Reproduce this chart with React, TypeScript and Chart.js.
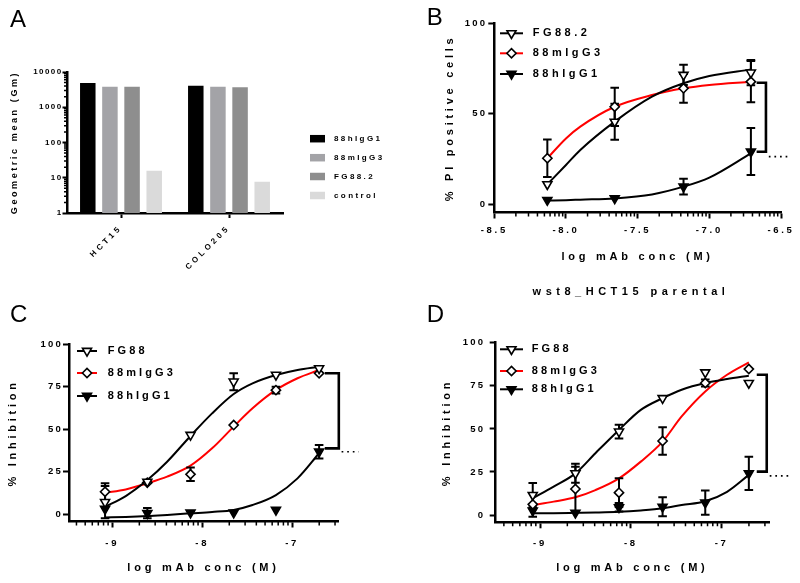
import React, { useEffect, useRef } from 'react';
import { Chart, registerables } from 'chart.js';
import { drawPoint } from 'chart.js/helpers';

Chart.register(...registerables);

const FONT = "'Liberation Sans', Arial, Helvetica, sans-serif";
Chart.defaults.font.family = FONT;
Chart.defaults.color = '#000';

// ---------------- Panel A : geometric mean (log bars) ----------------
const aCategories = ['HCT15', 'COLO205'];
const aSeriesNames = ['88hIgG1', '88mIgG3', 'FG88.2', 'control'];
const a88hIgG1 = [4900, 4100];
const a88mIgG3 = [3800, 3800];
const aFG882 = [3800, 3700];
const aControl = [15.8, 7.7];
const aYTicks = [1, 10, 100, 1000, 10000];
const aYTickLabels = ['1', '10', '100', '1000', '10000'];
const aDecades = [1, 10, 100, 1000];
const aMinorK = [2, 3, 4, 5, 6, 7, 8, 9];

// ---------------- Panel B : % PI positive cells ----------------
const bNames = ['FG88.2', '88mIgG3', '88hIgG1'];
const bConc = [-8.13, -7.66, -7.18, -6.71];
const bFG882 = [10.9, 45.5, 71.4, 72.7];
const bFG882Err = [0, 10, 5.6, 7];
const bMIgG3 = [25.3, 53.8, 64, 67.7];
const bMIgG3Err = [10.4, 10.6, 8, 11.4];
const bHIgG1 = [2.2, 3.1, 9.6, 29];
const bHIgG1Err = [0, 0, 4.4, 13];
const bCurveX = [-8.13, -8.0, -7.9, -7.66, -7.4, -7.18, -7.0, -6.71];
const bCurveFG882 = [10.9, 21.6, 29.9, 45.6, 59.4, 66.8, 70.8, 74.5];
const bCurveMIgG3 = [25.3, 36.3, 42.8, 53.8, 60.3, 64, 65.9, 67.7];
const bCurveHIgG1 = [1.9, 2.1, 2.4, 3.1, 5.3, 9.6, 14.6, 28];
const bXTicks = [-8.5, -8.0, -7.5, -7.0, -6.5];
const bXTickLabels = ['-8.5', '-8.0', '-7.5', '-7.0', '-6.5'];
const bYTicks = [0, 50, 100];
const bYTickLabels = ['0', '50', '100'];

// ---------------- Panel C : % inhibition ----------------
const cNames = ['FG88', '88mIgG3', '88hIgG1'];
const cConc = [-9.08, -8.61, -8.13, -7.65, -7.18, -6.7];
const cFG88 = [7, 19, 46.6, 78, 82, 85.8];
const cFG88Err = [9.5, 0, 0, 5, 0, 0];
const cMIgG3 = [13.1, 18.5, 23.4, 52.4, 73, 82.9];
const cMIgG3Err = [5, 0, 4, 0, 2, 0];
const cHIgG1 = [3, 0.5, 0.8, 0.8, 2.4, 36.7];
const cHIgG1Err = [0, 3, 0, 0, 0, 4];
const cCurveX = [-9.08, -8.85, -8.61, -8.39, -8.13, -7.89, -7.65, -7.44, -7.18, -6.94, -6.7];
const cCurveFG88 = [4.3, 10.6, 20, 30.8, 46, 59.3, 70.7, 77, 81.9, 84.9, 86.8];
const cCurveMIgG3 = [12.6, 14.5, 18.1, 22, 28.5, 38.7, 51.5, 62.3, 73.1, 80, 84.9];
const cCurveHIgG1 = [-2, -1.7, -1.2, -0.5, 0.4, 1.2, 2.4, 5.3, 11.2, 21, 35.8];

// ---------------- Panel D : % inhibition ----------------
const dNames = ['FG88', '88mIgG3', '88hIgG1'];
const dConc = [-9.08, -8.61, -8.13, -7.65, -7.18, -6.7];
const dFG88 = [11.6, 24.2, 48.4, 67.8, 82.7, 76.6];
const dFG88Err = [7, 5.5, 4, 0, 0, 0];
const dMIgG3 = [6.2, 15.1, 13, 43, 76.6, 84.7];
const dMIgG3Err = [0, 13, 8.3, 8, 2, 0];
const dHIgG1 = [2.5, 1.3, 4.5, 4.8, 7.2, 24.2];
const dHIgG1Err = [3.5, 0, 2.5, 5.5, 7, 9.7];
const dCurveX = [-9.08, -8.85, -8.61, -8.39, -8.13, -7.89, -7.65, -7.44, -7.18, -6.94, -6.7];
const dCurveFG88 = [9.7, 16.5, 24.2, 35.9, 49.4, 61, 67.8, 72.7, 76.6, 78.9, 80.8];
const dCurveMIgG3 = [5.8, 7.8, 10.3, 14.5, 21.3, 31, 42.6, 57.2, 71.7, 81.4, 88.6];
const dCurveHIgG1 = [1, 1.1, 1.3, 1.5, 1.9, 2.7, 3.9, 5.8, 8, 13.5, 23.3];

const cdXTicks = [-9, -8, -7];
const cdXTickLabels = ['-9', '-8', '-7'];
const cdYTicks = [0, 25, 50, 75, 100];
const cdYTickLabels = ['0', '25', '50', '75', '100'];

// log10(2..9): fractional positions of Prism's minor ticks inside each major interval
const LOG_FRACTIONS = [0.301, 0.477, 0.602, 0.699, 0.778, 0.845, 0.903, 0.954];

function minorTicks(starts: number[], step: number, lo: number, hi: number) {
  const out: number[] = [];
  starts.forEach((m) => LOG_FRACTIONS.forEach((f) => {
    const v = m + f * step;
    if (v > lo && v < hi) out.push(v);
  }));
  return out;
}

const bold = (size: number) => ({ family: FONT, size, weight: 'bold' as const });

type TextSpec = { text: string; x: number; y: number; font: string; align?: CanvasTextAlign; baseline?: CanvasTextBaseline; spacing?: number };

function drawErrorBars(chart: any) {
  const ctx = chart.ctx;
  const xs = chart.scales.x;
  const ys = chart.scales.y;
  ctx.save();
  ctx.strokeStyle = '#000';
  ctx.lineWidth = 2;
  chart.data.datasets.forEach((ds: any) => {
    if (!ds.errorBars) return;
    ds.data.forEach((p: any, j: number) => {
      const e = ds.errorBars[j];
      if (!e) return;
      const x = xs.getPixelForValue(p.x);
      const y1 = ys.getPixelForValue(p.y + e);
      const y2 = ys.getPixelForValue(p.y - e);
      ctx.beginPath();
      ctx.moveTo(x, y1); ctx.lineTo(x, y2);
      ctx.moveTo(x - 4.3, y1); ctx.lineTo(x + 4.3, y1);
      ctx.moveTo(x - 4.3, y2); ctx.lineTo(x + 4.3, y2);
      ctx.stroke();
    });
  });
  ctx.restore();
}

function prismPlugin(cfg: any) {
  let errDrawn = false;
  return {
    id: 'prism',
    beforeUpdate(chart: any) {
      chart.ctx.letterSpacing = (cfg.baseSpacing ?? 2) + 'px';
    },
    afterUpdate(chart: any) {
      Object.values(chart.scales).forEach((s: any) => {
        if (s.__prism) return;
        s.__prism = true;
        const dt = s.drawTitle.bind(s);
        const dl = s.drawLabels.bind(s);
        const ls = (cfg.labelSpacing && cfg.labelSpacing[s.id]) ?? 2;
        s.drawTitle = () => { s.ctx.letterSpacing = cfg.titleSpacing + 'px'; dt(); s.ctx.letterSpacing = '0px'; };
        s.drawLabels = (a: any) => { s.ctx.letterSpacing = ls + 'px'; dl(a); s.ctx.letterSpacing = '0px'; };
      });
    },
    beforeDatasetsDraw() { errDrawn = false; },
    beforeDatasetDraw(chart: any, args: any) {
      const ds = chart.data.datasets[args.index];
      if (!ds.isMarker || errDrawn) return;
      errDrawn = true;
      drawErrorBars(chart);
    },
    afterDraw(chart: any) {
      const ctx = chart.ctx;
      const ca = chart.chartArea;
      const xs = chart.scales.x;
      const ys = chart.scales.y;
      ctx.save();
      // minor ticks
      ctx.strokeStyle = '#000';
      ctx.lineWidth = 1.5;
      ctx.beginPath();
      (cfg.xMinor || []).forEach((v: number) => {
        const px = xs.getPixelForValue(v);
        ctx.moveTo(px, ca.bottom); ctx.lineTo(px, ca.bottom + cfg.minorLen);
      });
      (cfg.yMinor || []).forEach((v: number) => {
        const py = ys.getPixelForValue(v);
        ctx.moveTo(ca.left, py); ctx.lineTo(ca.left - cfg.minorLen, py);
      });
      ctx.stroke();
      // significance bracket
      if (cfg.bracket) {
        const b = cfg.bracket;
        const x = xs.getPixelForValue(b.x);
        const x0 = xs.getPixelForValue(b.xStub);
        const yt = ys.getPixelForValue(b.yTop);
        const yb = ys.getPixelForValue(b.yBottom);
        ctx.lineWidth = 2.6;
        ctx.lineJoin = 'miter';
        ctx.beginPath();
        ctx.moveTo(x0, yt); ctx.lineTo(x, yt); ctx.lineTo(x, yb); ctx.lineTo(x0, yb);
        ctx.stroke();
        const dy = ys.getPixelForValue(b.dotY);
        ctx.lineWidth = 1.7;
        ctx.setLineDash([1.7, 3.9]);
        ctx.beginPath();
        ctx.moveTo(xs.getPixelForValue(b.dotX0), dy);
        ctx.lineTo(xs.getPixelForValue(b.dotX1), dy);
        ctx.stroke();
        ctx.setLineDash([]);
      }
      // curve legend (line + marker)
      if (cfg.curveLegend) {
        const L = cfg.curveLegend;
        L.items.forEach((it: any, i: number) => {
          const y = L.ys[i];
          const mk = chart.data.datasets[it.marker];
          const cv = chart.data.datasets[it.curve];
          ctx.strokeStyle = cv.borderColor;
          ctx.lineWidth = 2;
          ctx.beginPath(); ctx.moveTo(L.x0, y); ctx.lineTo(L.x1, y); ctx.stroke();
          ctx.fillStyle = mk.pointBackgroundColor;
          ctx.strokeStyle = mk.pointBorderColor;
          ctx.lineWidth = mk.pointBorderWidth;
          drawPoint(ctx, { pointStyle: mk.pointStyle, rotation: mk.pointRotation, radius: mk.pointRadius, borderWidth: mk.pointBorderWidth } as any, (L.x0 + L.x1) / 2, y);
          ctx.fillStyle = '#000';
          ctx.font = L.font;
          ctx.letterSpacing = L.spacing + 'px';
          ctx.textAlign = 'left';
          ctx.textBaseline = 'middle';
          ctx.fillText(mk.label, L.tx, y);
        });
      }
      // box legend
      if (cfg.boxLegend) {
        const L = cfg.boxLegend;
        chart.data.datasets.forEach((ds: any, i: number) => {
          const y = L.ys[i];
          ctx.fillStyle = ds.backgroundColor;
          ctx.fillRect(L.x, y - L.h / 2, L.w, L.h);
          ctx.fillStyle = '#000';
          ctx.font = L.font;
          ctx.letterSpacing = L.spacing + 'px';
          ctx.textAlign = 'left';
          ctx.textBaseline = 'middle';
          ctx.fillText(ds.label, L.tx, y);
        });
      }
      // free texts (panel letters, captions)
      (cfg.texts || []).forEach((t: TextSpec) => {
        ctx.fillStyle = '#000';
        ctx.font = t.font;
        ctx.letterSpacing = (t.spacing || 0) + 'px';
        ctx.textAlign = t.align || 'left';
        ctx.textBaseline = t.baseline || 'alphabetic';
        ctx.fillText(t.text, t.x, t.y);
      });
      ctx.restore();
    },
  };
}

function pts(xs: number[], ys: number[]) {
  return xs.map((x, i) => ({ x, y: ys[i] }));
}

function markerDs(label: string, xs: number[], ys: number[], errs: number[], style: any) {
  return {
    label,
    data: pts(xs, ys),
    showLine: false,
    isMarker: true,
    errorBars: errs,
    pointStyle: style.pointStyle,
    pointRotation: style.rotation,
    pointRadius: style.radius,
    pointBackgroundColor: style.fill,
    pointBorderColor: '#000',
    pointBorderWidth: 1.6,
    order: 1,
  };
}

function curveDs(label: string, xs: number[], ys: number[], color: string) {
  return {
    label,
    data: pts(xs, ys),
    showLine: true,
    borderColor: color,
    borderWidth: 2,
    pointRadius: 0,
    cubicInterpolationMode: 'monotone',
    fill: false,
    order: 2,
  };
}

const OPEN_DOWN = { pointStyle: 'triangle', rotation: 180, radius: 5.2, fill: '#ffffff' };
const OPEN_DIAMOND = { pointStyle: 'rectRot', rotation: 0, radius: 4.6, fill: '#ffffff' };
const FILLED_DOWN = { pointStyle: 'triangle', rotation: 180, radius: 5.2, fill: '#000000' };

function configA() {
  return {
    type: 'bar',
    data: {
      labels: aCategories,
      datasets: [
        { label: aSeriesNames[0], data: a88hIgG1, backgroundColor: '#000000' },
        { label: aSeriesNames[1], data: a88mIgG3, backgroundColor: '#a3a3a7' },
        { label: aSeriesNames[2], data: aFG882, backgroundColor: '#8e8e8e' },
        { label: aSeriesNames[3], data: aControl, backgroundColor: '#dadada' },
      ].map((d) => ({ ...d, borderWidth: 0, barPercentage: 0.7, categoryPercentage: 0.82 })),
    },
    options: {
      responsive: false,
      animation: false,
      events: [],
      layout: { padding: { left: 0, top: 72, right: 117, bottom: 0 } },
      plugins: { legend: { display: false }, tooltip: { enabled: false } },
      scales: {
        x: {
          type: 'category',
          afterFit: (s: any) => { s.height = 77; },
          grid: { offset: false, drawOnChartArea: false, drawTicks: true, tickLength: 5, tickWidth: 2, tickColor: '#000', color: '#000' },
          border: { display: true, color: '#000', width: 2.5 },
          ticks: { color: '#000', font: bold(8), minRotation: 45, maxRotation: 45, padding: 5, autoSkip: false },
        },
        y: {
          type: 'logarithmic',
          min: 1,
          max: 10000,
          afterFit: (s: any) => { s.width = 67; },
          afterBuildTicks: (s: any) => { s.ticks = aYTicks.map((v) => ({ value: v })); },
          grid: { drawOnChartArea: false, drawTicks: true, tickLength: 4.5, tickWidth: 2, tickColor: '#000', color: '#000' },
          border: { display: true, color: '#000', width: 2.5 },
          ticks: { color: '#000', font: bold(8), padding: 0, autoSkip: false, callback: (_v: any, i: number) => aYTickLabels[i] },
          title: { display: true, text: 'Geometric mean (Gm)', color: '#000', font: bold(9), padding: { top: 9.6, bottom: 0 } },
        },
      },
    },
    plugins: [prismPlugin({
      baseSpacing: 2,
      labelSpacing: { x: 3.3, y: 1.4 },
      titleSpacing: 2.6,
      yMinor: aDecades.flatMap((d) => aMinorK.map((k) => k * d)),
      minorLen: 3,
      boxLegend: { x: 310, w: 15, h: 7.5, tx: 334, ys: [138.7, 157.7, 176.5, 195.5], font: `bold 8px ${FONT}`, spacing: 2.4 },
      texts: [{ text: 'A', x: 10, y: 26.7, font: `24px ${FONT}` }],
    })],
  };
}

function configCurve(p: any) {
  return {
    type: 'scatter',
    data: {
      datasets: [
        markerDs(p.names[0], p.conc, p.s1, p.e1, OPEN_DOWN),
        markerDs(p.names[1], p.conc, p.s2, p.e2, OPEN_DIAMOND),
        markerDs(p.names[2], p.conc, p.s3, p.e3, FILLED_DOWN),
        curveDs(p.names[0] + ' fit', p.curveX, p.c1, '#000000'),
        curveDs(p.names[1] + ' fit', p.curveX, p.c2, '#ff0000'),
        curveDs(p.names[2] + ' fit', p.curveX, p.c3, '#000000'),
      ],
    },
    options: {
      responsive: false,
      animation: false,
      events: [],
      layout: { padding: { left: 0, top: p.area.top, right: p.canvasW - p.area.right, bottom: 0 } },
      plugins: { legend: { display: false }, tooltip: { enabled: false } },
      scales: {
        x: {
          type: 'linear',
          min: p.xMin,
          max: p.xMax,
          afterFit: (s: any) => { s.height = p.canvasH - p.area.bottom; },
          afterBuildTicks: (s: any) => { s.ticks = p.xTicks.map((v: number) => ({ value: v })); },
          grid: { drawOnChartArea: false, drawTicks: true, tickLength: 6, tickWidth: 2, tickColor: '#000', color: '#000' },
          border: { display: true, color: '#000', width: 2.5 },
          ticks: { color: '#000', font: bold(9.5), padding: p.xLabelPad, autoSkip: false, maxRotation: 0, callback: (_v: any, i: number) => p.xTickLabels[i] },
          title: { display: true, text: 'log mAb conc (M)', color: '#000', font: bold(11), padding: { top: 0, bottom: p.xTitlePad } },
        },
        y: {
          type: 'linear',
          min: p.yMin,
          max: 100,
          afterFit: (s: any) => { s.width = p.area.left; },
          afterBuildTicks: (s: any) => { s.ticks = p.yTicks.map((v: number) => ({ value: v })); },
          grid: { drawOnChartArea: false, drawTicks: true, tickLength: 6, tickWidth: 2, tickColor: '#000', color: '#000' },
          border: { display: true, color: '#000', width: 2.5 },
          ticks: { color: '#000', font: bold(9.5), padding: p.yLabelPad, autoSkip: false, callback: (_v: any, i: number) => p.yTickLabels[i] },
          title: { display: true, text: p.yTitle, color: '#000', font: bold(11), padding: { top: p.yTitlePad, bottom: 0 } },
        },
      },
    },
    plugins: [prismPlugin({
      baseSpacing: 2,
      labelSpacing: { x: 2.7, y: 2.2 },
      titleSpacing: 3.75,
      xMinor: p.xMinor,
      minorLen: 4,
      bracket: p.bracket,
      curveLegend: { items: [{ marker: 0, curve: 3 }, { marker: 1, curve: 4 }, { marker: 2, curve: 5 }], ...p.legend, font: `bold 11px ${FONT}` },
      texts: p.texts,
    })],
  };
}

function configB() {
  return configCurve({
    names: bNames, conc: bConc,
    s1: bFG882, e1: bFG882Err, s2: bMIgG3, e2: bMIgG3Err, s3: bHIgG1, e3: bHIgG1Err,
    curveX: bCurveX, c1: bCurveFG882, c2: bCurveMIgG3, c3: bCurveHIgG1,
    canvasW: 400, canvasH: 300,
    area: { left: 94.3, right: 381, top: 23.3, bottom: 212.5 },
    xMin: -8.5, xMax: -6.5, yMin: -4.7,
    xTicks: bXTicks, xTickLabels: bXTickLabels, yTicks: bYTicks, yTickLabels: bYTickLabels,
    xMinor: minorTicks([-8.5, -8.0, -7.5, -7.0], 0.5, -8.5, -6.5),
    xLabelPad: 6, yLabelPad: 1, xTitlePad: 36.4, yTitlePad: 43.4,
    yTitle: '% PI positive cells',
    bracket: { x: -6.605, xStub: -6.67, yTop: 67.1, yBottom: 28.9, dotY: 26.2, dotX0: -6.585, dotX1: -6.44 },
    legend: { x0: 100, x1: 123, tx: 132.7, ys: [33.3, 53.3, 74], spacing: 3.5 },
    texts: [
      { text: 'B', x: 26.7, y: 25, font: `24px ${FONT}` },
      { text: 'wst8_HCT15 parental', x: 231, y: 295, font: `bold 11px ${FONT}`, align: 'center', spacing: 4.5 },
    ],
  });
}

function configC() {
  return configCurve({
    names: cNames, conc: cConc,
    s1: cFG88, e1: cFG88Err, s2: cMIgG3, e2: cMIgG3Err, s3: cHIgG1, e3: cHIgG1Err,
    curveX: cCurveX, c1: cCurveFG88, c2: cCurveMIgG3, c3: cCurveHIgG1,
    canvasW: 400, canvasH: 293,
    area: { left: 69, right: 338, top: 54.3, bottom: 231.5 },
    xMin: -9.481, xMax: -6.49, yMin: -4.4,
    xTicks: cdXTicks, xTickLabels: cdXTickLabels, yTicks: cdYTicks, yTickLabels: cdYTickLabels,
    xMinor: minorTicks([-10, -9, -8, -7], 1, -9.481, -6.49),
    xLabelPad: 9.7, yLabelPad: 0, xTitlePad: 8.9, yTitlePad: 6.7,
    yTitle: '% Inhibition',
    bracket: { x: -6.481, xStub: -6.637, yTop: 82.9, yBottom: 38.7, dotY: 36.7, dotX0: -6.45, dotX1: -6.26 },
    legend: { x0: 77, x1: 97, tx: 107.7, ys: [61, 83, 106], spacing: 3.1 },
    texts: [{ text: 'C', x: 10, y: 31.5, font: `24px ${FONT}` }],
  });
}

function configD() {
  return configCurve({
    names: dNames, conc: dConc,
    s1: dFG88, e1: dFG88Err, s2: dMIgG3, e2: dMIgG3Err, s3: dHIgG1, e3: dHIgG1Err,
    curveX: dCurveX, c1: dCurveFG88, c2: dCurveMIgG3, c3: dCurveHIgG1,
    canvasW: 400, canvasH: 293,
    area: { left: 95.7, right: 369, top: 52.7, bottom: 232.3 },
    xMin: -9.488, xMax: -6.478, yMin: -4.2,
    xTicks: cdXTicks, xTickLabels: cdXTickLabels, yTicks: cdYTicks, yTickLabels: cdYTickLabels,
    xMinor: minorTicks([-10, -9, -8, -7], 1, -9.488, -6.478),
    xLabelPad: 8.9, yLabelPad: 4.5, xTitlePad: 8.1, yTitlePad: 40.1,
    yTitle: '% Inhibition',
    bracket: { x: -6.503, xStub: -6.613, yTop: 81.4, yBottom: 25.2, dotY: 22.7, dotX0: -6.47, dotX1: -6.25 },
    legend: { x0: 100, x1: 123, tx: 131.7, ys: [59.3, 81, 99.3], spacing: 3.1 },
    texts: [{ text: 'D', x: 26.7, y: 31.5, font: `24px ${FONT}` }],
  });
}

export default function App() {
  const refA = useRef<HTMLCanvasElement>(null);
  const refB = useRef<HTMLCanvasElement>(null);
  const refC = useRef<HTMLCanvasElement>(null);
  const refD = useRef<HTMLCanvasElement>(null);

  useEffect(() => {
    const charts = [
      new Chart(refA.current as HTMLCanvasElement, configA() as any),
      new Chart(refB.current as HTMLCanvasElement, configB() as any),
      new Chart(refC.current as HTMLCanvasElement, configC() as any),
      new Chart(refD.current as HTMLCanvasElement, configD() as any),
    ];
    return () => charts.forEach((c) => c.destroy());
  }, []);

  const cs = (l: number, t: number, w: number, h: number): React.CSSProperties => ({
    position: 'absolute', left: l, top: t, width: w, height: h,
  });

  return (
    <div style={{ position: 'absolute', left: 0, top: 0, width: 800, height: 583, background: '#ffffff', overflow: 'hidden' }}>
      <canvas ref={refA} width={400} height={290} style={cs(0, 0, 400, 290)} />
      <canvas ref={refB} width={400} height={300} style={cs(400, 0, 400, 300)} />
      <canvas ref={refC} width={400} height={293} style={cs(0, 290, 400, 293)} />
      <canvas ref={refD} width={400} height={293} style={cs(400, 290, 400, 293)} />
    </div>
  );
}
